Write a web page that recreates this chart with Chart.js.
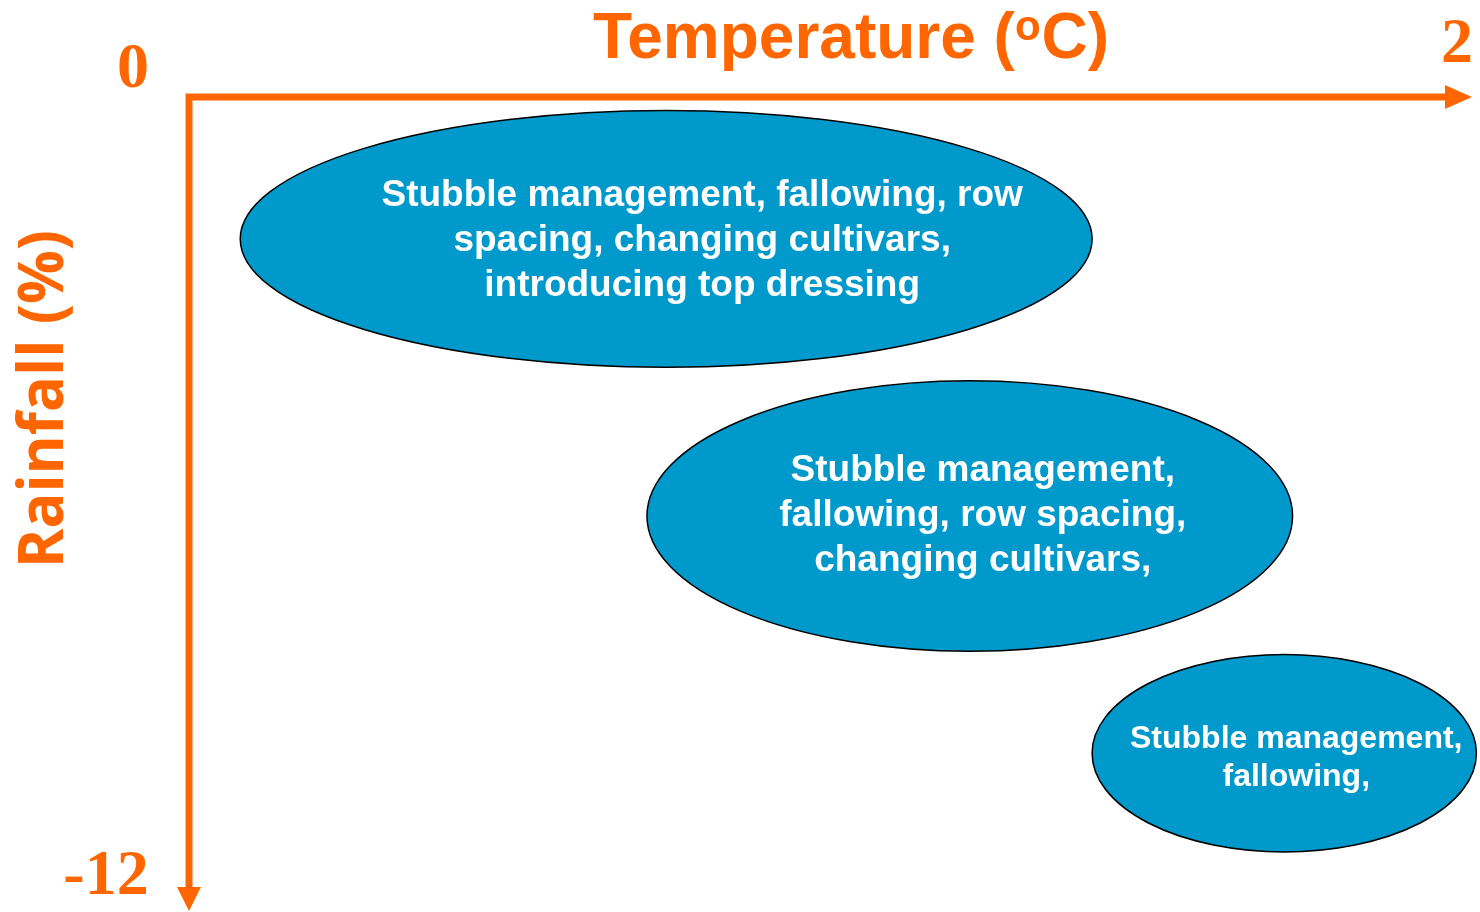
<!DOCTYPE html>
<html>
<head>
<meta charset="utf-8">
<script src="https://cdn.jsdelivr.net/npm/chart.js@4"></script>
<style>
  body { margin: 0; background: #fff; }
  #wrap { width: 1480px; height: 912px; position: relative; }
</style>
</head>
<body>
<div id="wrap"><canvas id="myChart"></canvas></div>
<script>
// adaptation zones: temperature range (oC) and rainfall change range (%)
const tempLow = [0.08, 0.715, 1.41];
const tempHigh = [1.41, 1.723, 2.01];
const rainTop = [-0.2, -4.2, -8.25];
const rainBottom = [-4.0, -8.2, -11.17];
const zoneText = [
  ["Stubble management, fallowing, row", "spacing, changing cultivars,", "introducing top dressing"],
  ["Stubble management,", "fallowing, row spacing,", "changing cultivars,"],
  ["Stubble management,", "fallowing,"]
];
const tempTicks = [0, 2];
const rainTicks = [0, -12];

const orange = "#FF6600";
const fill = "#0099CC";

// text placement inside each ellipse (pixels from centre), font size, line step
const textStyle = [
  { dx: 36, dy: 2, size: 37, step: 45 },
  { dx: 13, dy: 0, size: 37, step: 45 },
  { dx: 12, dy: 5, size: 32, step: 38 }
];

function fitText(ctx, str, x, y, width) {
  const w = ctx.measureText(str).width;
  ctx.save();
  ctx.translate(x, y);
  if (width) ctx.scale(width / w, 1);
  ctx.fillText(str, 0, 0);
  ctx.restore();
}

const zonesPlugin = {
  id: 'zones',
  afterDatasetsDraw(chart) {
    const ctx = chart.ctx;
    const xs = chart.scales.x, ys = chart.scales.y;
    const area = chart.chartArea;

    // ellipses
    for (let i = 0; i < tempLow.length; i++) {
      const x1 = xs.getPixelForValue(tempLow[i]), x2 = xs.getPixelForValue(tempHigh[i]);
      const y1 = ys.getPixelForValue(rainTop[i]), y2 = ys.getPixelForValue(rainBottom[i]);
      const cx = (x1 + x2) / 2, cy = (y1 + y2) / 2;
      ctx.save();
      ctx.beginPath();
      ctx.ellipse(cx, cy, (x2 - x1) / 2, (y2 - y1) / 2, 0, 0, Math.PI * 2);
      ctx.fillStyle = fill;
      ctx.fill();
      ctx.lineWidth = 1.5;
      ctx.strokeStyle = "#000";
      ctx.stroke();

      const st = textStyle[i];
      const lines = zoneText[i];
      ctx.fillStyle = "#fff";
      ctx.font = "bold " + st.size + "px 'Liberation Sans', Arial, sans-serif";
      ctx.textAlign = "center";
      ctx.textBaseline = "middle";
      const start = cy + st.dy - (lines.length - 1) * st.step / 2;
      lines.forEach((l, k) => ctx.fillText(l, cx + st.dx, start + k * st.step));
      ctx.restore();
    }

    // axes with arrows
    const x0 = xs.getPixelForValue(tempTicks[0]);
    const y0 = ys.getPixelForValue(rainTicks[0]);
    ctx.save();
    ctx.strokeStyle = orange;
    ctx.fillStyle = orange;
    ctx.lineWidth = 7;
    ctx.lineCap = "butt";
    ctx.beginPath();
    ctx.moveTo(x0 - 3.5, y0);
    ctx.lineTo(area.right - 22, y0);
    ctx.moveTo(x0, y0 - 3.5);
    ctx.lineTo(x0, area.bottom - 18);
    ctx.stroke();
    ctx.beginPath();
    ctx.moveTo(area.right - 25, y0 - 12);
    ctx.lineTo(area.right + 2, y0);
    ctx.lineTo(area.right - 25, y0 + 12);
    ctx.closePath();
    ctx.fill();
    ctx.beginPath();
    ctx.moveTo(x0 - 12, area.bottom - 21);
    ctx.lineTo(x0, area.bottom + 3);
    ctx.lineTo(x0 + 12, area.bottom - 21);
    ctx.closePath();
    ctx.fill();

    // end values
    ctx.font = "bold 64px 'Liberation Serif', 'Times New Roman', serif";
    ctx.textAlign = "center";
    ctx.textBaseline = "alphabetic";
    ctx.fillText(String(tempTicks[0]), x0 - 56, y0 - 10);
    ctx.fillText(String(tempTicks[1]), xs.getPixelForValue(tempTicks[1]) - 13, y0 - 35);
    ctx.fillText(String(rainTicks[1]), x0 - 83, ys.getPixelForValue(rainTicks[1]) - 14);

    // axis titles
    const big = "bold 64px 'Liberation Sans', Arial, sans-serif";
    const small = "bold 42px 'Liberation Sans', Arial, sans-serif";
    ctx.font = big;
    ctx.textAlign = "left";
    const p1 = "Temperature (", p3 = "C)";
    const w1 = ctx.measureText(p1).width;
    const w3 = ctx.measureText(p3).width;
    ctx.font = small;
    const w2 = ctx.measureText("o").width + 1;
    let tx = 851 - (w1 + w2 + w3) / 2;
    const tb = 58;
    ctx.font = big;
    ctx.fillText(p1, tx, tb);
    ctx.font = small;
    ctx.fillText("o", tx + w1, tb - 18);
    ctx.font = big;
    ctx.fillText(p3, tx + w1 + w2, tb);

    ctx.save();
    ctx.translate(63, 399);
    ctx.rotate(-Math.PI / 2);
    ctx.font = "bold 62px 'Open Sans', 'DejaVu Sans', sans-serif";
    ctx.textAlign = "center";
    fitText(ctx, "Rainfall (%)", 0, 0, 338);
    ctx.restore();
    ctx.restore();
  }
};

new Chart(document.getElementById('myChart'), {
  type: 'scatter',
  data: {
    datasets: [{
      data: tempLow.map((t, i) => ({ x: (t + tempHigh[i]) / 2, y: (rainTop[i] + rainBottom[i]) / 2 })),
      pointRadius: 0
    }]
  },
  options: {
    responsive: true,
    maintainAspectRatio: false,
    animation: false,
    layout: { padding: { left: 189, right: 10, top: 97, bottom: 4 } },
    plugins: { legend: { display: false }, tooltip: { enabled: false } },
    scales: {
      x: { type: 'linear', min: 0, max: 2, display: false },
      y: { type: 'linear', min: -12, max: 0, display: false }
    }
  },
  plugins: [zonesPlugin]
});
</script>
</body>
</html>
